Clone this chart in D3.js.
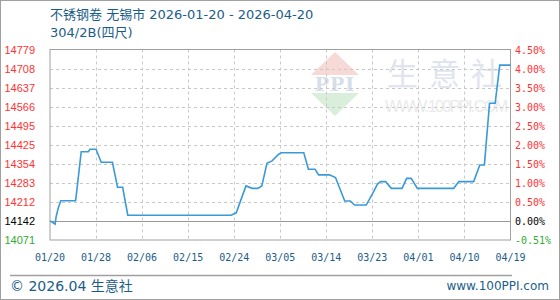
<!DOCTYPE html>
<html>
<head>
<meta charset="utf-8">
<script src="https://cdn.jsdelivr.net/npm/d3@7/dist/d3.min.js"></script>
<style>
  body { margin: 0; background: #fff; }
  svg { display: block; }
</style>
</head>
<body>
<div id="chart"></div>
<script>
// price series (x = position in the date range, 0..90)
const pointIdx = [0, 0.4, 1.0, 1.2, 1.6, 2.1, 5.0, 5.1, 5.3, 6.1, 7.5, 7.8, 9.0, 10.0, 12.2, 13.2, 14.2, 15.2,
  35.4, 36.4, 38.3, 39.5, 40.6, 41.4, 42.4, 43.4, 44.7, 45.2, 49.6, 50.5, 51.8, 52.5, 54.6, 55.8, 57.6, 58.7,
  59.5, 61.8, 63.1, 64.0, 64.6, 65.6, 66.7, 68.8, 69.7, 70.6, 71.8, 78.9, 79.9, 82.8, 84.0, 84.9, 85.9, 87.0, 87.9, 90];
const prices = [14142, 14138, 14130, 14158, 14189, 14217, 14217, 14232, 14265, 14399, 14399, 14408, 14408, 14360, 14360, 14267, 14267, 14163,
  14163, 14172, 14272, 14263, 14263, 14272, 14356, 14365, 14390, 14395, 14395, 14334, 14334, 14313, 14313, 14303, 14216, 14216,
  14201, 14201, 14245, 14279, 14288, 14288, 14263, 14263, 14300, 14300, 14263, 14263, 14288, 14288, 14350, 14350, 14579, 14579, 14721, 14721];

const leftTicks = [14071, 14142, 14212, 14283, 14354, 14425, 14495, 14566, 14637, 14708, 14779];
const rightTicks = ['-0.51%', '0.00%', '0.50%', '1.00%', '1.50%', '2.00%', '2.50%', '3.00%', '3.50%', '4.00%', '4.50%'];
const xTickIdx = [0, 9, 18, 27, 36, 45, 54, 63, 72, 81, 90];
const xTickLabels = ['01/20', '01/28', '02/06', '02/15', '02/24', '03/05', '03/14', '03/23', '04/01', '04/10', '04/19'];
const basePrice = 14142;

const W = 560, H = 300;
const plot = { left: 50, right: 510.5, top: 49.5, bottom: 240 };
const textBlue = '#1b5d8a';

const svg = d3.select('#chart').append('svg')
  .attr('width', W)
  .attr('height', H);

// outer border
svg.append('rect')
  .attr('x', 0.5).attr('y', 0.5)
  .attr('width', W - 1).attr('height', H - 1)
  .attr('fill', 'none').attr('stroke', '#a0a0a0');

const x = d3.scaleLinear().domain([0, 90]).range([plot.left, plot.right]);
const y = d3.scaleLinear().domain([leftTicks[0], leftTicks[leftTicks.length - 1]]).range([plot.bottom, plot.top]);

// watermark
const wm = svg.append('g');
wm.append('path')
  .attr('d', 'M335,52 L359,75 L311,75 Z')
  .attr('fill', '#f7d9d6');
wm.append('text')
  .attr('x', 335).attr('y', 91)
  .attr('text-anchor', 'middle')
  .attr('font-family', 'DejaVu Serif, serif')
  .attr('font-size', 19).attr('font-weight', 'bold')
  .attr('letter-spacing', 1)
  .attr('fill', '#d6deea')
  .text('PPI');
wm.append('path')
  .attr('d', 'M311,93 L359,93 L335,116 Z')
  .attr('fill', '#d9eedb');
wm.append('text')
  .attr('x', 387).attr('y', 85)
  .attr('font-family', 'Noto Sans CJK SC, sans-serif')
  .attr('font-size', 31)
  .attr('letter-spacing', 11)
  .attr('fill', '#dfe4ee')
  .text('生意社');
wm.append('text')
  .attr('x', 385).attr('y', 112)
  .attr('font-family', 'Liberation Sans, Arial, sans-serif')
  .attr('font-size', 16)
  .attr('textLength', 123)
  .attr('fill', '#eaeaea')
  .text('WWW.100PPI.COM');

// horizontal grid
svg.append('g')
  .selectAll('line')
  .data(leftTicks.filter(d => d !== basePrice && d !== leftTicks[0] && d !== leftTicks[leftTicks.length - 1]))
  .enter().append('line')
  .attr('x1', plot.left).attr('x2', plot.right)
  .attr('y1', d => Math.round(y(d)) + 0.5)
  .attr('y2', d => Math.round(y(d)) + 0.5)
  .attr('stroke', '#c8c8c8')
  .attr('stroke-dasharray', '3,3');

// vertical grid
svg.append('g')
  .selectAll('line')
  .data(xTickIdx.slice(1, -1))
  .enter().append('line')
  .attr('x1', d => Math.round(x(d)) + 0.5)
  .attr('x2', d => Math.round(x(d)) + 0.5)
  .attr('y1', plot.top).attr('y2', plot.bottom)
  .attr('stroke', '#c8c8c8')
  .attr('stroke-dasharray', '3,3');

// zero line
svg.append('line')
  .attr('x1', plot.left).attr('x2', plot.right)
  .attr('y1', Math.round(y(basePrice)) + 0.5)
  .attr('y2', Math.round(y(basePrice)) + 0.5)
  .attr('stroke', '#999');

// plot frame
svg.append('rect')
  .attr('x', plot.left).attr('y', plot.top)
  .attr('width', plot.right - plot.left)
  .attr('height', plot.bottom - plot.top)
  .attr('fill', 'none')
  .attr('stroke', '#a0a0a0');

// price line
const line = d3.line()
  .x((d, i) => x(pointIdx[i]))
  .y(d => y(d));

svg.append('path')
  .datum(prices)
  .attr('d', line)
  .attr('fill', 'none')
  .attr('stroke', '#3a9ad8')
  .attr('stroke-width', 1.6);

// tick colours: above base red, base black, below green
const tickColor = i => leftTicks[i] > basePrice ? '#ff3333' : (leftTicks[i] === basePrice ? '#000' : '#33aa33');

// left axis labels
svg.append('g')
  .selectAll('text')
  .data(leftTicks)
  .enter().append('text')
  .attr('x', 35)
  .attr('y', d => y(d) + 4)
  .attr('text-anchor', 'end')
  .attr('font-family', 'Liberation Sans, Arial, sans-serif')
  .attr('font-size', 11)
  .attr('fill', (d, i) => tickColor(i))
  .text(d => d);

// right axis labels
svg.append('g')
  .selectAll('text')
  .data(rightTicks)
  .enter().append('text')
  .attr('x', 515)
  .attr('y', (d, i) => y(leftTicks[i]) + 4)
  .attr('font-family', 'DejaVu Sans Mono, monospace')
  .attr('font-size', 10)
  .attr('fill', (d, i) => tickColor(i))
  .text(d => d);

// x axis labels
svg.append('g')
  .selectAll('text')
  .data(xTickIdx)
  .enter().append('text')
  .attr('x', d => x(d))
  .attr('y', 261)
  .attr('text-anchor', 'middle')
  .attr('font-family', 'DejaVu Sans Mono, monospace')
  .attr('font-size', 10)
  .attr('fill', textBlue)
  .text((d, i) => xTickLabels[i]);

// title
svg.append('text')
  .attr('x', 50).attr('y', 19)
  .attr('font-family', 'DejaVu Sans, Noto Sans CJK SC, sans-serif')
  .attr('font-size', 13)
  .attr('fill', textBlue)
  .text('不锈钢卷 无锡市 2026-01-20 - 2026-04-20');
svg.append('text')
  .attr('x', 50).attr('y', 37)
  .attr('font-family', 'DejaVu Sans, Noto Sans CJK SC, sans-serif')
  .attr('font-size', 13)
  .attr('fill', textBlue)
  .text('304/2B(四尺)');

// footer
svg.append('line')
  .attr('x1', 10).attr('x2', 512)
  .attr('y1', 275.5).attr('y2', 275.5)
  .attr('stroke', '#a0a0a0')
  .attr('stroke-width', 1.5);
svg.append('text')
  .attr('x', 10).attr('y', 291)
  .attr('font-family', 'DejaVu Sans, Noto Sans CJK SC, sans-serif')
  .attr('font-size', 14)
  .attr('fill', textBlue)
  .text('© 2026.04 生意社');
svg.append('text')
  .attr('x', 549).attr('y', 290)
  .attr('text-anchor', 'end')
  .attr('font-family', 'DejaVu Sans, sans-serif')
  .attr('font-size', 12)
  .attr('fill', textBlue)
  .text('www.100PPI.com');
</script>
</body>
</html>
